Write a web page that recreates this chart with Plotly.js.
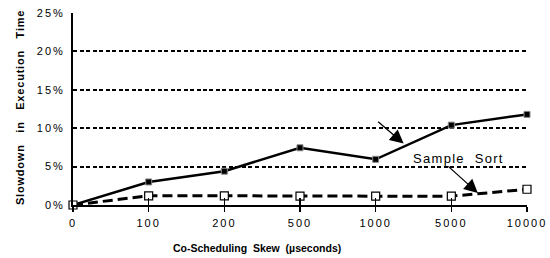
<!DOCTYPE html>
<html>
<head>
<meta charset="utf-8">
<script src="https://cdn.plot.ly/plotly-3.0.1.min.js"></script>
<style>
html,body{margin:0;padding:0;background:#fff;}
#chart{width:550px;height:258px;}
.xtick text, .ytick text{letter-spacing:2px;}
</style>
</head>
<body>
<div id="chart"></div>
<script>
// Data
var categories = ["0", "100", "200", "500", "1000", "5000", "10000"];
var solidSeries = [0, 3.0, 4.4, 7.45, 5.95, 10.4, 11.8];
var sampleSort = [0, 1.2, 1.2, 1.15, 1.15, 1.15, 2.05];
var yTickVals = [0, 5, 10, 15, 20, 25];
var yTickText = ["0%", "5%", "10%", "15%", "20%", "25%"];
var xTitle = "Co-Scheduling\u00a0\u00a0Skew\u00a0\u00a0(\u00b5seconds)";
var yTitle = "Slowdown\u00a0\u00a0\u00a0in\u00a0\u00a0\u00a0Execution\u00a0\u00a0\u00a0Time";
var seriesLabel = "Sample\u00a0\u00a0Sort";

var FONT = "Liberation Sans, Arial, sans-serif";

var traces = [
  {
    x: categories, y: solidSeries, type: "scatter", mode: "lines+markers",
    line: {color: "#000", width: 2.5},
    marker: {symbol: "square", size: 6, color: "#000", line: {color: "#888", width: 1}},
    cliponaxis: false, showlegend: false, hoverinfo: "skip"
  },
  {
    x: categories, y: sampleSort, type: "scatter", mode: "lines+markers",
    line: {color: "#000", width: 3, dash: "10px,5px"},
    marker: {symbol: "square", size: 8, color: "#fff", line: {color: "#000", width: 1.2}},
    cliponaxis: false, showlegend: false, hoverinfo: "skip"
  },
  {x: categories, y: sampleSort, xaxis: "x2", yaxis: "y", type: "scatter", mode: "none", showlegend: false, hoverinfo: "skip"}
];

var layout = {
  width: 550, height: 258,
  margin: {l: 73, r: 23, t: 13, b: 53},
  paper_bgcolor: "#fff", plot_bgcolor: "#fff",
  font: {family: FONT, color: "#000", size: 11},
  xaxis: {
    type: "category", range: [0, 6],
    showgrid: false, zeroline: false,
    showline: true, linecolor: "#000", linewidth: 2,
    ticks: "outside", ticklen: 5, tickwidth: 1.5, tickcolor: "#000",
    ticklabelstandoff: 2,
    tickfont: {family: FONT, size: 11, color: "#000"}
  },
  xaxis2: {
    type: "category", range: [0, 6], overlaying: "x",
    showgrid: false, zeroline: false, showline: false,
    ticks: "inside", ticklen: 7, tickwidth: 1.5, tickcolor: "#000",
    showticklabels: false, anchor: "y"
  },
  yaxis: {
    range: [0, 25], tickvals: yTickVals, ticktext: yTickText,
    showgrid: true, gridcolor: "#000", gridwidth: 2, griddash: "4px,2.5px",
    zeroline: false, showline: true, linecolor: "#000", linewidth: 2,
    ticks: "", ticklabelstandoff: 4,
    tickfont: {family: FONT, size: 11, color: "#000"}
  },
  annotations: [
    {xref: "paper", yref: "paper", x: 0.405, y: -0.224, xanchor: "center", yanchor: "middle",
     text: xTitle, showarrow: false, font: {family: FONT, size: 10.5, weight: "bold", color: "#000"}},
    {xref: "paper", yref: "paper", x: -0.1167, y: 0.505, xanchor: "center", yanchor: "middle", textangle: -90,
     text: "<span style='letter-spacing:0.8px'>" + yTitle + "</span>", showarrow: false,
     font: {family: FONT, size: 11, weight: "bold", color: "#000"}},
    {x: 5.09, y: 6.0, xref: "x", yref: "y", text: "<span style='letter-spacing:1.3px'>" + seriesLabel + "</span>", showarrow: false,
     font: {family: FONT, size: 13, color: "#000"}},
    {x: 4.37, y: 8.0, xref: "x", yref: "y", text: "", showarrow: true,
     ax: -27, ay: -23, arrowhead: 2, arrowsize: 2.1, arrowwidth: 1.3, arrowcolor: "#000", standoff: 0},
    {x: 5.35, y: 1.56, xref: "x", yref: "y", text: "", showarrow: true,
     ax: -31, ay: -28, arrowhead: 2, arrowsize: 2.1, arrowwidth: 1.3, arrowcolor: "#000", standoff: 0}
  ]
};

Plotly.newPlot("chart", traces, layout, {displayModeBar: false, staticPlot: true});
</script>
</body>
</html>
